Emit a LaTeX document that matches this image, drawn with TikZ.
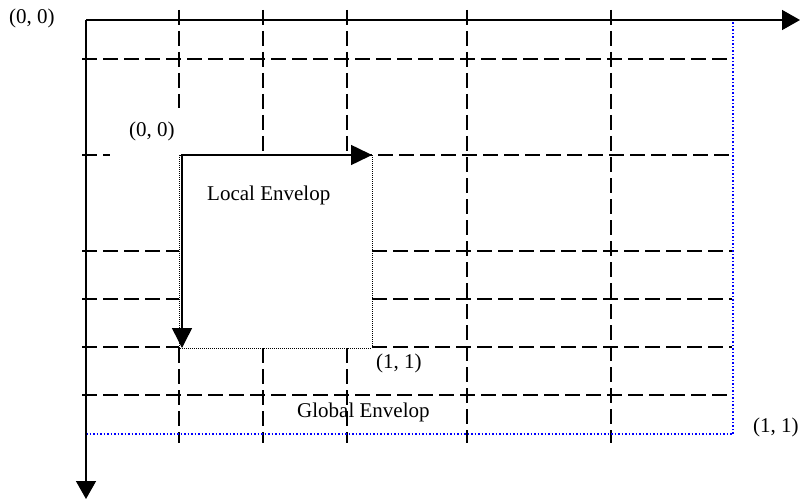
\documentclass[tikz,border=0pt]{standalone}
\usepackage{fontspec}
\setmainfont{Liberation Serif}
\usetikzlibrary{arrows.meta}
\begin{document}
\begin{tikzpicture}[x=1pt,y=-1pt,
  gridline/.style={line width=1.8pt, dash pattern=on 15pt off 6pt},
  axisline/.style={line width=1.5pt, -{Triangle[width=20pt,length=18pt]}},
  localbox/.style={line width=1pt, dash pattern=on 1pt off 1pt},
  globalbox/.style={blue, line width=1.2pt, dash pattern=on 1.5pt off 2pt},
  lbl/.style={inner sep=0pt, anchor=base west, font=\fontsize{21}{25}\selectfont}]
\useasboundingbox (0,0) rectangle (800,500);
% horizontal grid lines
\foreach \y in {59,395} \draw[gridline] (82,\y) -- (732,\y);
\foreach \y in {251,299,347} {
  \draw[gridline] (82,\y) -- (179,\y);
  \draw[gridline] (372,\y) -- (732,\y);
}
\draw[gridline] (82,155) -- (110,155);
\draw[gridline] (231,155) -- (732,155);
% vertical grid lines
\draw[gridline] (179,10) -- (179,108);
\foreach \x in {263,347} \draw[gridline] (\x,10) -- (\x,155);
\foreach \x in {179,263,347} \draw[gridline] (\x,348) -- (\x,443);
\foreach \x in {467,611} \draw[gridline] (\x,10) -- (\x,443);
% local envelope
\draw[localbox] (179,155) rectangle (372,348);
% global envelope
\coordinate (G0) at (86,434);
\coordinate (G1) at (733,434);
\coordinate (G2) at (733,20);
\draw[globalbox] (G0) -- (G1) -- (G2);
% axes
\coordinate (O) at (86,20);
\coordinate (Xend) at (800,20);
\coordinate (Yend) at (86,499);
\draw[axisline] (O) -- (Xend);
\draw[axisline] (O) -- (Yend);
% local axes
\coordinate (LO) at (181,155);
\coordinate (LOv) at (182,155);
\coordinate (LX) at (372,155);
\coordinate (LY) at (182,348);
\draw[axisline, -{Triangle[width=20pt,length=21pt]}] (LO) -- (LX);
\draw[axisline, -{Triangle[width=20pt,length=20pt]}] (LOv) -- (LY);
% labels
\node[lbl] (o1) at (9,24) {(0, 0)};
\node[lbl] (o2) at (129,136) {(0, 0)};
\node[lbl] (loc) at (207,200) {Local Envelop};
\node[lbl] (p1) at (376,368.5) {(1, 1)};
\node[lbl] (glob) at (297,417) {Global Envelop};
\node[lbl] (p2) at (753,432) {(1, 1)};
\end{tikzpicture}
\end{document}
